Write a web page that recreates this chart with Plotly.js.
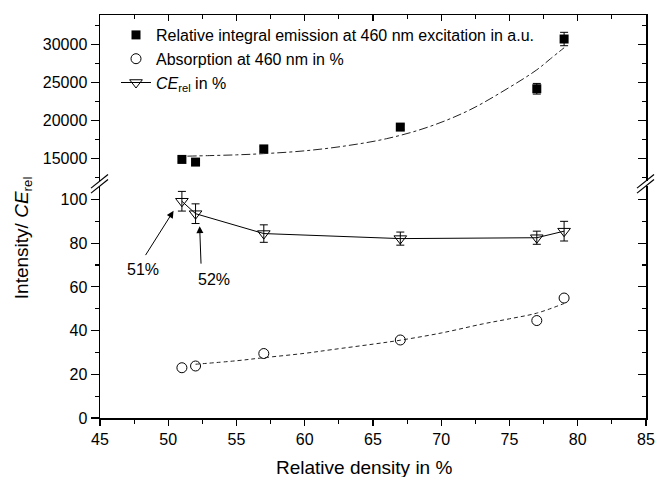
<!DOCTYPE html>
<html>
<head>
<meta charset="utf-8">
<script src="https://cdn.plot.ly/plotly-3.0.1.min.js"></script>
<style>html,body{margin:0;padding:0;background:#fff;}#chart{width:655px;height:477px;}</style>
</head>
<body>
<div id="chart"></div>
<script>
// ---- data ----
const density = [51, 52, 57, 67, 77, 79];
const emission = [14920, 14570, 16300, 19170, 24210, 30750];
const emissionErr = [300, 300, 300, 300, 700, 880];
const absorption = [23.0, 23.8, 29.5, 35.7, 44.6, 54.9];
const ceRel = [99.2, 93.5, 84.4, 82.1, 82.5, 85.5];
const ceRelErr = [4.5, 4.5, 4.0, 3.0, 3.0, 4.5];

const emissionFitX = [51.4, 53, 55, 57, 60, 63, 66, 69, 72, 75, 77, 78, 79];
const emissionFitY = [15350, 15420, 15520, 15680, 16050, 16700, 17650, 19150, 21350, 24400, 26700, 28150, 29600];
const absorptionFitX = [52, 55, 57, 60, 62, 65, 67, 70, 73, 75, 77, 79];
const absorptionFitY = [24.6, 26.2, 27.6, 29.6, 31.3, 33.8, 35.6, 38.9, 43.0, 45.4, 48.0, 52.4];

const legendNames = [
  'Relative integral emission at 460 nm excitation in a.u.',
  'Absorption at 460 nm in %',
  '<i>CE</i><sub>rel</sub> in %'
];
const xTitle = 'Relative density in %';
const yTitle = 'Intensity/ <i>CE</i><sub>rel</sub>';

// ---- layout helpers (pixel -> paper) ----
const L = 100, R = 9, T = 15, B = 59.3, W = 655, H = 477;
const pw = W - L - R, ph = H - T - B;
const px = v => (v - L) / pw;
const py = v => (H - B - v) / ph;

const FONT = 'Arial, "Liberation Sans", sans-serif';
const err = (arr) => ({type: 'data', array: arr, visible: true, color: '#000', thickness: 1, width: 4});
const ghost = (xa, ya, yv) => ({x: density, y: yv, xaxis: xa, yaxis: ya, type: 'scatter', mode: 'markers',
  marker: {opacity: 0, size: 1}, showlegend: false, hoverinfo: 'skip'});

const traces = [
  {x: density, y: emission, yaxis: 'y2', type: 'scatter', mode: 'markers', name: legendNames[0],
   marker: {symbol: 'square', size: 9, color: '#000'}, error_y: err(emissionErr)},
  {x: density, y: absorption, yaxis: 'y', type: 'scatter', mode: 'markers', name: legendNames[1],
   marker: {symbol: 'circle-open', size: 10, color: '#000', line: {width: 1, color: '#000'}}},
  {x: density, y: ceRel, yaxis: 'y', type: 'scatter', mode: 'lines+markers', name: legendNames[2],
   line: {color: '#000', width: 1},
   marker: {symbol: 'triangle-down-open', size: 11, color: '#000', line: {width: 1, color: '#000'}},
   error_y: err(ceRelErr)},
  {x: emissionFitX, y: emissionFitY, yaxis: 'y2', type: 'scatter', mode: 'lines', showlegend: false,
   line: {color: '#222', width: 1, dash: 'dashdot', shape: 'spline'}, hoverinfo: 'skip'},
  {x: absorptionFitX, y: absorptionFitY, yaxis: 'y', type: 'scatter', mode: 'lines', showlegend: false,
   line: {color: '#222', width: 1, dash: '4px,3px', shape: 'spline'}, hoverinfo: 'skip'},
  ghost('x2', 'y2', emission),
  ghost('x', 'y3', absorption),
  ghost('x', 'y4', emission)
];

const lowTop = py(186), upBot = py(181);
const lowRange = [0, (H - B - 186) / 2.1835];
const upRange = [15000 - (181 - 158.7) / 38 * 5000, 30000 + (44.7 - T) / 38 * 5000];

const axBase = {showgrid: false, zeroline: false, showline: true, linecolor: '#000', linewidth: 1.5,
  tickcolor: '#000', tickwidth: 1.2, tickfont: {family: FONT, size: 16, color: '#000'}};

const layout = {
  width: W, height: H,
  margin: {l: L, r: R, t: T, b: B, pad: 0},
  paper_bgcolor: '#fff', plot_bgcolor: '#fff',
  font: {family: FONT, color: '#000'},
  showlegend: true,
  legend: {x: px(116), y: py(18), xanchor: 'left', yanchor: 'top', bgcolor: 'rgba(0,0,0,0)',
    font: {family: FONT, size: 16, color: '#000'}, tracegroupgap: 0, itemwidth: 30},
  xaxis: Object.assign({}, axBase, {range: [45, 85], dtick: 5, tick0: 45, anchor: 'y',
    ticks: 'outside', ticklen: 6, minor: {dtick: 2.5, ticks: 'outside', ticklen: 4, tickcolor: '#000'}}),
  xaxis2: Object.assign({}, axBase, {range: [45, 85], dtick: 5, tick0: 45, overlaying: 'x', anchor: 'y2', side: 'top',
    ticks: 'inside', ticklen: 6, showticklabels: false, minor: {dtick: 2.5, ticks: 'inside', ticklen: 4, tickcolor: '#000'}}),
  yaxis: Object.assign({}, axBase, {domain: [0, lowTop], range: lowRange, dtick: 20, tick0: 0, anchor: 'x',
    ticks: 'outside', ticklen: 8, minor: {dtick: 10, ticks: 'outside', ticklen: 4, tickcolor: '#000'}}),
  yaxis2: Object.assign({}, axBase, {domain: [upBot, 1], range: upRange, dtick: 5000, tick0: 0, anchor: 'x',
    tickformat: 'd', ticks: 'outside', ticklen: 8, minor: {dtick: 2500, ticks: 'outside', ticklen: 4, tickcolor: '#000'}}),
  yaxis3: Object.assign({}, axBase, {range: lowRange, dtick: 20, tick0: 0, overlaying: 'y', side: 'right', anchor: 'x',
    ticks: 'inside', ticklen: 8, showticklabels: false, minor: {dtick: 10, ticks: 'inside', ticklen: 4, tickcolor: '#000'}}),
  yaxis4: Object.assign({}, axBase, {range: upRange, dtick: 5000, tick0: 0, overlaying: 'y2', side: 'right', anchor: 'x',
    ticks: 'inside', ticklen: 8, showticklabels: false, minor: {dtick: 2500, ticks: 'inside', ticklen: 4, tickcolor: '#000'}}),
  shapes: [
    {type: 'line', xref: 'paper', yref: 'paper', x0: px(91), y0: py(193), x1: px(108), y1: py(179.4), line: {color: '#000', width: 1.2}},
    {type: 'line', xref: 'paper', yref: 'paper', x0: px(91), y0: py(188), x1: px(108), y1: py(174.4), line: {color: '#000', width: 1.2}},
    {type: 'line', xref: 'paper', yref: 'paper', x0: px(637), y0: py(193), x1: px(654), y1: py(179.4), line: {color: '#000', width: 1.2}},
    {type: 'line', xref: 'paper', yref: 'paper', x0: px(637), y0: py(188), x1: px(654), y1: py(174.4), line: {color: '#000', width: 1.2}}
  ],
  annotations: [
    {xref: 'x', yref: 'y', x: 50.39, y: 94.8, ax: -31, ay: 49, text: ' ', showarrow: true,
     arrowhead: 2, arrowsize: 1.4, arrowwidth: 1, arrowcolor: '#000'},
    {xref: 'x', yref: 'y', x: 52.3, y: 87.8, ax: 1.7, ay: 46, text: ' ', showarrow: true,
     arrowhead: 2, arrowsize: 1.4, arrowwidth: 1, arrowcolor: '#000'},
    {xref: 'x', yref: 'y', x: 48.14, y: 68.1, text: '51%', showarrow: false, font: {family: FONT, size: 16, color: '#000'}},
    {xref: 'x', yref: 'y', x: 53.33, y: 63.4, text: '52%', showarrow: false, font: {family: FONT, size: 16, color: '#000'}},
    {xref: 'paper', yref: 'paper', x: px(363.7), y: py(467), xanchor: 'center', yanchor: 'middle', text: xTitle, showarrow: false,
     font: {family: FONT, size: 19, color: '#000'}},
    {xref: 'paper', yref: 'paper', x: px(23), y: py(238), xanchor: 'center', yanchor: 'middle', text: yTitle, showarrow: false, textangle: -90,
     font: {family: FONT, size: 19, color: '#000'}}
  ]
};

Plotly.newPlot('chart', traces, layout, {staticPlot: true, displayModeBar: false});
</script>
</body>
</html>
